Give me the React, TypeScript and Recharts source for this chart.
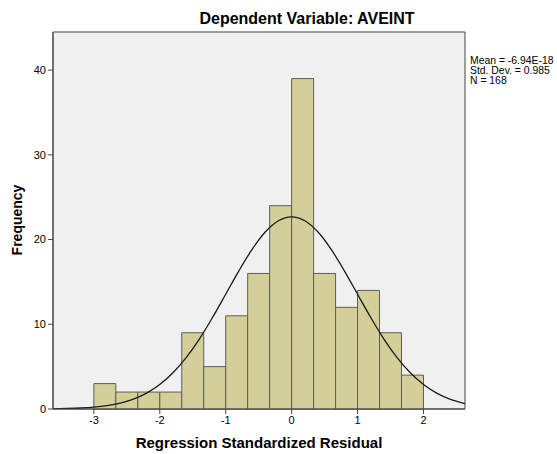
import React from 'react';
import { ComposedChart, Line, XAxis, YAxis, ReferenceArea, CartesianGrid } from 'recharts';

// Histogram bins (bin width 1/3) and frequencies
const binStarts = [-3, -2.6667, -2.3333, -2, -1.6667, -1.3333, -1, -0.6667, -0.3333, 0, 0.3333, 0.6667, 1, 1.3333, 1.6667];
const binEnds = [-2.6667, -2.3333, -2, -1.6667, -1.3333, -1, -0.6667, -0.3333, 0, 0.3333, 0.6667, 1, 1.3333, 1.6667, 2];
const frequencies = [3, 2, 2, 2, 9, 5, 11, 16, 24, 39, 16, 12, 14, 9, 4];

// Normal curve (Mean ≈ 0, SD = 0.985, N = 168) read at steps of 0.2
const curveX = [-3.62, -3.4, -3.2, -3.0, -2.8, -2.6, -2.4, -2.2, -2.0, -1.8, -1.6, -1.4, -1.2, -1.0, -0.8, -0.6, -0.4, -0.2, 0, 0.2, 0.4, 0.6, 0.8, 1.0, 1.2, 1.4, 1.6, 1.8, 2.0, 2.2, 2.4, 2.63];
const curveY = [0.025, 0.059, 0.116, 0.219, 0.399, 0.696, 1.166, 1.872, 2.887, 4.271, 6.063, 8.26, 10.8, 13.55, 16.31, 18.84, 20.89, 22.22, 22.68, 22.22, 20.89, 18.84, 16.31, 13.55, 10.8, 8.26, 6.063, 4.271, 2.887, 1.872, 1.166, 0.64];

const xTicks = [-3, -2, -1, 0, 1, 2];
const yTicks = [0, 10, 20, 30, 40];
const title = 'Dependent Variable: AVEINT';
const xLabel = 'Regression Standardized Residual';
const yLabel = 'Frequency';
const stats = ['Mean = -6.94E-18', 'Std. Dev. = 0.985', 'N = 168'];

const X_MIN = -3.62;
const X_MAX = 2.63;
const Y_MAX = 44.5;

const curveData = curveX.map((x, i) => ({ x, y: curveY[i] }));

const font = '"Liberation Sans", Arial, sans-serif';

export default function App() {
  return (
    <div style={{ position: 'absolute', left: 0, top: 0, width: 557, height: 454, background: '#fff', fontFamily: font }}>
      <ComposedChart
        width={557}
        height={454}
        data={curveData}
        margin={{ top: 32, right: 92, bottom: 0, left: 13 }}
      >
        <CartesianGrid horizontal={false} vertical={false} fill="#F0F0F0" />
        <XAxis
          type="number"
          dataKey="x"
          domain={[X_MIN, X_MAX]}
          ticks={xTicks}
          allowDataOverflow
          height={45}
          tick={{ fontSize: 11, fill: '#000', fontFamily: font }}
          tickLine={{ stroke: '#444' }}
          axisLine={{ stroke: '#444' }}
          tickSize={5}
          tickMargin={2}
        />
        <YAxis
          type="number"
          domain={[0, Y_MAX]}
          ticks={yTicks}
          allowDataOverflow
          width={40}
          tick={{ fontSize: 11, fill: '#000', fontFamily: font }}
          tickLine={{ stroke: '#444' }}
          axisLine={{ stroke: '#444' }}
          tickSize={5}
          tickMargin={2}
        />
        <ReferenceArea x1={X_MIN} x2={X_MAX} y1={0} y2={Y_MAX} fill="none" stroke="#444" strokeWidth={1} ifOverflow="visible" />
        {frequencies.map((f, i) => (
          <ReferenceArea
            key={i}
            x1={binStarts[i]}
            x2={binEnds[i]}
            y1={0}
            y2={f}
            fill="#D4CF99"
            fillOpacity={1}
            stroke="#5E5E50"
            strokeWidth={1}
            ifOverflow="visible"
          />
        ))}
        <Line
          type="monotone"
          dataKey="y"
          stroke="#1a1a1a"
          strokeWidth={1.3}
          dot={false}
          activeDot={false}
          isAnimationActive={false}
        />
      </ComposedChart>
      <div style={{ position: 'absolute', left: 0, width: 614, top: 10, textAlign: 'center', fontWeight: 'bold', fontSize: 16, lineHeight: '18px', color: '#000', whiteSpace: 'nowrap' }}>
        {title}
      </div>
      <div style={{ position: 'absolute', left: 0, width: 518, top: 434, textAlign: 'center', fontWeight: 'bold', fontSize: 15, lineHeight: '17px', color: '#000', whiteSpace: 'nowrap' }}>
        {xLabel}
      </div>
      <div style={{ position: 'absolute', left: 17, top: 220, transform: 'translate(-50%, -50%) rotate(-90deg)', fontWeight: 'bold', fontSize: 14, color: '#000', whiteSpace: 'nowrap' }}>
        {yLabel}
      </div>
      <div style={{ position: 'absolute', left: 470, top: 56, fontSize: 10.4, lineHeight: '10px', color: '#000', whiteSpace: 'nowrap' }}>
        {stats.map((s, i) => (
          <div key={i}>{s}</div>
        ))}
      </div>
    </div>
  );
}
